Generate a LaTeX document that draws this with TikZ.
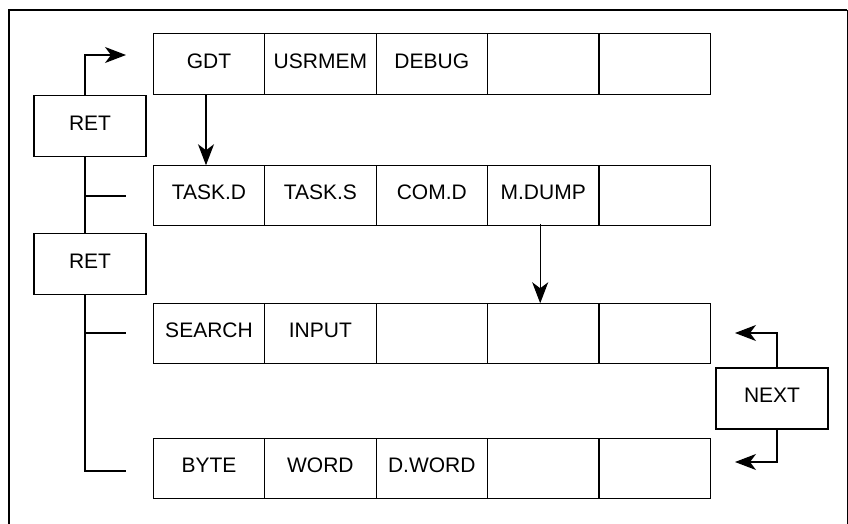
\documentclass[tikz,border=0pt]{standalone}
\usepackage{fontspec}
\setmainfont{Liberation Sans}
\usetikzlibrary{positioning, arrows.meta}

\tikzset{
  cell/.style={draw, line width=1.2pt, minimum width=111.4pt, minimum height=60.5pt,
               inner sep=0pt, outer sep=0pt, text depth=6pt, font=\fontsize{21}{25}\selectfont},
  softkey/.style={draw, line width=1.2pt, minimum width=112pt, minimum height=61pt,
               inner sep=0pt, outer sep=0pt, text depth=6pt, font=\fontsize{21}{25}\selectfont},
  link/.style={line width=1.2pt},
  arr/.style={line width=1.2pt, -{Stealth[length=21pt, width=16pt, inset=6pt]}}
}

\begin{document}
\begin{tikzpicture}[x=1pt, y=-1pt]
      \useasboundingbox (0,0) rectangle (848,524);
      % ── frame ──
      \draw[line width=2.5pt] (9,524) -- (9,10) -- (847,10);
      \draw[line width=1pt] (847,10) -- (847,524);

      % ── Row 1 ──
      \node[cell] (r1c1) at (209,64) {GDT};
      \node[cell, right=0pt of r1c1] (r1c2) {USRMEM};
      \node[cell, right=0pt of r1c2] (r1c3) {DEBUG};
      \node[cell, right=0pt of r1c3] (r1c4) {};
      \node[cell, right=0pt of r1c4] (r1c5) {};
      % ── Row 2 ──
      \node[cell] (r2c1) at (209,195.5) {TASK.D};
      \node[cell, right=0pt of r2c1] (r2c2) {TASK.S};
      \node[cell, right=0pt of r2c2] (r2c3) {COM.D};
      \node[cell, right=0pt of r2c3] (r2c4) {M.DUMP};
      \node[cell, right=0pt of r2c4] (r2c5) {};
      % ── Row 3 ──
      \node[cell] (r3c1) at (209,333.5) {SEARCH};
      \node[cell, right=0pt of r3c1] (r3c2) {INPUT};
      \node[cell, right=0pt of r3c2] (r3c3) {};
      \node[cell, right=0pt of r3c3] (r3c4) {};
      \node[cell, right=0pt of r3c4] (r3c5) {};
      % ── Row 4 ──
      \node[cell] (r4c1) at (209,468.5) {BYTE};
      \node[cell, right=0pt of r4c1] (r4c2) {WORD};
      \node[cell, right=0pt of r4c2] (r4c3) {D.WORD};
      \node[cell, right=0pt of r4c3] (r4c4) {};
      \node[cell, right=0pt of r4c4] (r4c5) {};

      % ── keys ──
      \node[softkey] (ret1) at (90,126) {RET};
      \node[softkey] (ret2) at (90,264) {RET};
      \node[softkey] (next) at (772,398.5) {NEXT};

      % ── free ends ──
      \coordinate (sp) at (85,0);
      \coordinate (t1) at (126,55);
      \coordinate (b2) at (126,196);
      \coordinate (b3) at (126,333);
      \coordinate (b4) at (126,471);
      \coordinate (n3) at (735,333);
      \coordinate (n4) at (735,462);

      % ── left tree ──
      \draw[arr] (ret1.north -| sp) |- (t1);
      \draw[link] (ret1.south -| sp) -- (ret2.north -| sp);
      \draw[link] (b2 -| sp) -- (b2);
      \draw[link] (ret2.south -| sp) |- (b4);
      \draw[link] (b3 -| sp) -- (b3);

      % ── menu arrows ──
      \draw[arr] ([xshift=-3pt]r1c1.south) -- ([xshift=-3pt]r2c1.north);
      \draw[arr] ([xshift=-3pt, yshift=2pt]r2c4.south) -- ([xshift=-3pt]r3c4.north);
      \draw[arr] ([xshift=5pt]next.north) |- (n3);
      \draw[arr] ([xshift=5pt]next.south) |- (n4);
\end{tikzpicture}
\end{document}
